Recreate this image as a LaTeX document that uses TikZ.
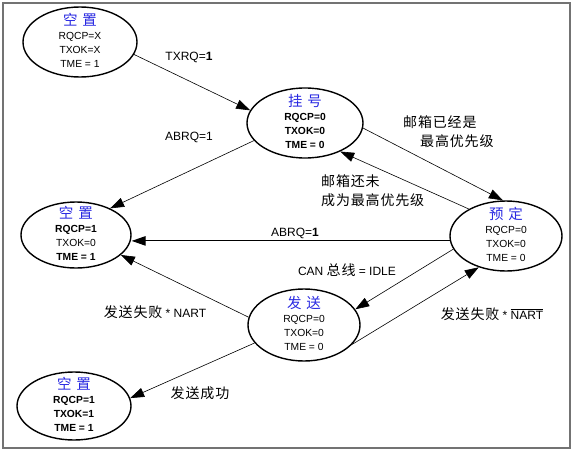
\documentclass[tikz,border=0pt]{standalone}
\usepackage{fontspec}
\setmainfont{Liberation Sans}
\newfontfamily\cjk[LetterSpace=6]{Noto Sans CJK SC}
\usetikzlibrary{shapes.geometric,arrows.meta}
\definecolor{titleblue}{RGB}{40,40,225}
\newcommand\zh[1]{{\cjk\fontsize{14}{19}\selectfont #1}}
\newcommand\ttl[2]{{\cjk\mdseries\fontsize{14.5}{16}\selectfont\color{titleblue}#1\hspace{5pt}#2}}

\begin{document}
\begin{tikzpicture}[x=1pt, y=-1pt, >={Triangle[length=14pt,width=9.5pt]}]
    \tikzstyle{state}=[ellipse,draw,line width=1.4pt,inner sep=0pt]
    \tikzstyle{info}=[align=center,inner sep=0pt,yshift=2pt,font=\fontsize{10.3}{14}\selectfont]
    \tikzstyle{lbl}=[inner sep=0pt,font=\fontsize{12}{14}\selectfont]
    \tikzstyle{zhlbl}=[inner sep=0pt,align=left,font=\cjk\fontsize{14}{19}\selectfont]
    \tikzstyle{move}=[->,line width=0.6pt]
    \useasboundingbox (0,0) rectangle (574,453);
    \draw[black!55,line width=1.3pt] (3,3) rectangle (570,448);
    % states
    \node[state,minimum width=114pt,minimum height=70pt] (idleA) at (80,42) {};
    \node[state,minimum width=116pt,minimum height=70pt] (pend) at (305,123) {};
    \node[state,minimum width=110pt,minimum height=66pt] (idleB) at (76,235) {};
    \node[state,minimum width=112pt,minimum height=70pt] (sched) at (506,236) {};
    \node[state,minimum width=112pt,minimum height=72pt] (send) at (304,325) {};
    \node[state,minimum width=114pt,minimum height=68pt] (idleC) at (74,406) {};
    \node[info] (idleAtxt) at (idleA) {\ttl{空}{置}\\RQCP=X\\TXOK=X\\TME = 1};
    \node[info,font=\fontsize{10.3}{14}\selectfont\bfseries] (pendtxt) at (pend) {\ttl{挂}{号}\\RQCP=0\\TXOK=0\\TME = 0};
    \node[info] (idleBtxt) at (idleB) {\ttl{空}{置}\\\textbf{RQCP=1}\\TXOK=0\\\textbf{TME = 1}};
    \node[info] (schedtxt) at (sched) {\ttl{预}{定}\\RQCP=0\\TXOK=0\\TME = 0};
    \node[info] (sendtxt) at (send) {\ttl{发}{送}\\RQCP=0\\TXOK=0\\TME = 0};
    \node[info,font=\fontsize{10.3}{14}\selectfont\bfseries] (idleCtxt) at (idleC) {\ttl{空}{置}\\RQCP=1\\TXOK=1\\TME = 1};
    % transitions
    \draw[move] (idleA.-13) -- (pend.167);
    \draw[move] (pend.199) -- (idleB.38);
    \draw[move] (pend.-5) -- (sched.95);
    \draw[move] (sched.144) -- (pend.-39);
    \draw[move,line width=1pt] (sched.185) -- (sched.185 -| idleB.east);
    \draw[move] (sched.194) -- (send.17);
    \draw[move] (send.-22) -- (sched.229);
    \draw[move] (send.172) -- (idleB.-24);
    \draw[move] (send.200) -- (idleC.8);
    % labels
    \node[lbl] (lTxrq) at (189,57) {TXRQ=\textbf{1}};
    \node[lbl] (lAbrqA) at (189,137) {ABRQ=1};
    \node[zhlbl,anchor=west] (lHigh) at (403,132) {邮箱已经是\\\hspace{17pt}最高优先级};
    \node[zhlbl,anchor=west] (lLow) at (321,191) {邮箱还未\\成为最高优先级};
    \node[lbl] (lAbrqB) at (295,233) {ABRQ=\textbf{1}};
    \node[lbl] (lIdle) at (347,270) {CAN \zh{总线} = IDLE};
    \node[lbl] (lFailB) at (492,314) {\zh{发送失败} * $\overline{\mbox{NART}}$};
    \node[lbl] (lFailA) at (155,312) {\zh{发送失败} * NART};
    \node[zhlbl] (lOk) at (200,393) {发送成功};
\end{tikzpicture}
\end{document}
